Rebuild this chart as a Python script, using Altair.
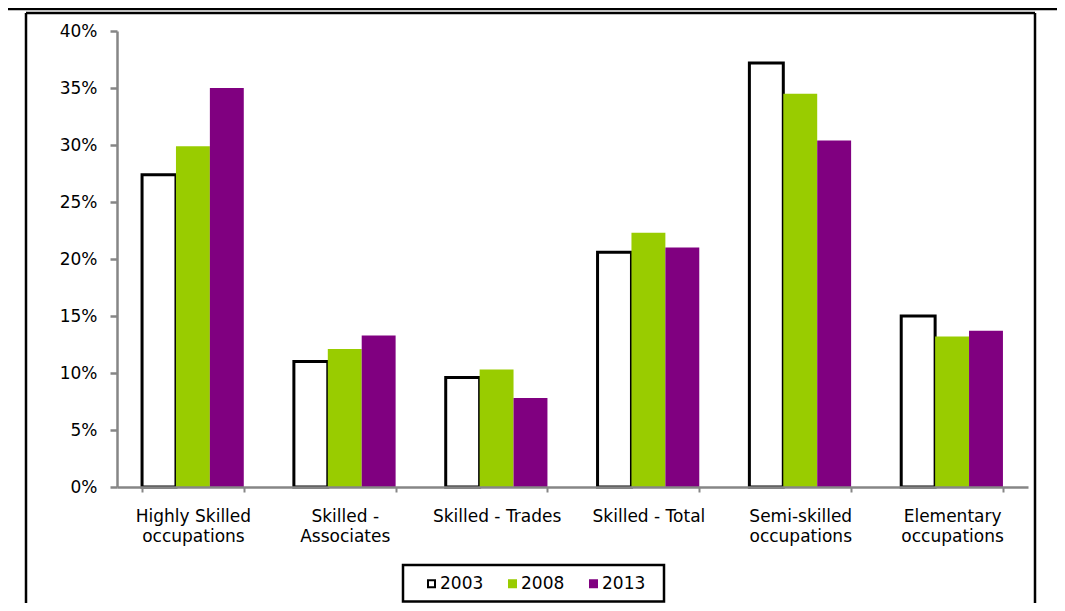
import altair as alt
import pandas as pd

categories = [
    "Highly Skilled\noccupations",
    "Skilled -\nAssociates",
    "Skilled - Trades",
    "Skilled - Total",
    "Semi-skilled\noccupations",
    "Elementary\noccupations",
]
years = ["2003", "2008", "2013"]
share_2003 = [27.4, 11.0, 9.6, 20.6, 37.2, 15.0]
share_2008 = [29.9, 12.1, 10.3, 22.3, 34.5, 13.2]
share_2013 = [35.0, 13.3, 7.8, 21.0, 30.4, 13.7]
y_ticks = [0, 5, 10, 15, 20, 25, 30, 35, 40]

fills = ["#FFFFFF", "#99CC00", "#800080"]
strokes = ["#000000", "#99CC00", "#800080"]

rows = []
for yr, vals in zip(years, [share_2003, share_2008, share_2013]):
    for c, v in zip(categories, vals):
        rows.append({"Category": c, "Year": yr, "Share": v})
df = pd.DataFrame(rows)

FONT = "DejaVu Sans"
GRAY = "#868686"
W, H = 911, 456
PAD = {"left": 109, "top": 23, "right": 29, "bottom": 116}
FS = 17

legend = alt.Legend(
    orient="none", legendX=306, legendY=544, direction="horizontal", title=None,
    symbolType="square", symbolSize=49, symbolStrokeWidth=2,
    labelFont=FONT, labelFontSize=FS, labelColor="#000000", labelOffset=0,
    columnPadding=20, padding=0,
)

bars = alt.Chart(df).mark_bar(strokeJoin="miter").encode(
    x=alt.X("Category:N", sort=categories,
            scale=alt.Scale(paddingInner=0.33, paddingOuter=0.165),
            axis=alt.Axis(title=None, labelAngle=0,
                          labelExpr="split(datum.label, '\\n')",
                          labelFont=FONT, labelFontSize=FS, labelColor="#000000",
                          labelPadding=16, labelLineHeight=20, labelOverlap=False,
                          labelLimit=300, domainColor=GRAY, domainWidth=2.5,
                          tickColor=GRAY, tickWidth=2, tickSize=5, tickBand="extent",
                          zindex=1)),
    xOffset=alt.XOffset("Year:N", sort=years,
                        scale=alt.Scale(paddingInner=0, paddingOuter=0)),
    y=alt.Y("Share:Q", scale=alt.Scale(domain=[0, 40], nice=False),
            axis=alt.Axis(title=None, values=y_ticks, labelExpr="datum.value + '%'",
                          labelFont=FONT, labelFontSize=FS, labelColor="#000000",
                          labelPadding=13, grid=False, domainColor=GRAY,
                          domainWidth=2.5, tickColor=GRAY, tickWidth=2.5, tickSize=7,
                          zindex=1)),
    fill=alt.Fill("Year:N", sort=years,
                  scale=alt.Scale(domain=years, range=fills), legend=legend),
    stroke=alt.Stroke("Year:N", sort=years,
                      scale=alt.Scale(domain=years, range=strokes), legend=legend),
    strokeWidth=alt.condition("datum.Year == '2003'", alt.value(3), alt.value(0)),
)

one = alt.Data(values=[{"k": 1}])
SB = H + PAD["bottom"]

top_line = alt.Chart(one).mark_rule(color="black", strokeWidth=2.5).encode(
    x=alt.value(-PAD["left"]), x2=alt.value(W + PAD["right"]), y=alt.value(-22))
frame_top = alt.Chart(one).mark_rule(color="black", strokeWidth=2.5).encode(
    x=alt.value(-91), x2=alt.value(918), y=alt.value(-18))
frame_left = alt.Chart(one).mark_rule(color="black", strokeWidth=2.5).encode(
    x=alt.value(-91), y=alt.value(-18), y2=alt.value(SB))
frame_right = alt.Chart(one).mark_rule(color="black", strokeWidth=2.5).encode(
    x=alt.value(918), y=alt.value(-18), y2=alt.value(SB))
legend_box = alt.Chart(one).mark_rect(fill="white", stroke="black", strokeWidth=2.5).encode(
    x=alt.value(286), x2=alt.value(547), y=alt.value(534), y2=alt.value(570.5))

chart = alt.layer(top_line, frame_top, frame_left, frame_right, legend_box, bars).properties(
    width=W, height=H,
    autosize=alt.AutoSizeParams(type="none"),
    padding=PAD,
).configure(font=FONT, view=alt.ViewConfig(stroke=None))

chart.save("out.html", embed_options={"renderer": "svg", "actions": False})
